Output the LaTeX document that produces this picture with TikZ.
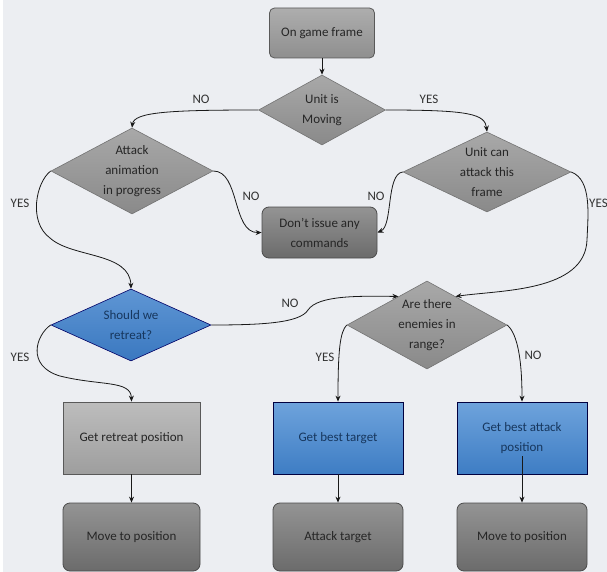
\documentclass[tikz,border=0pt]{standalone}
\usepackage{fontspec}
\setmainfont{Carlito}
\usetikzlibrary{shapes.geometric,arrows.meta}
\definecolor{bgc}{HTML}{ECEEF2}
\definecolor{txtgray}{HTML}{262626}
\definecolor{txtblue}{HTML}{17375E}
\definecolor{lblc}{HTML}{333333}
\tikzset{
  base/.style={font=\fontsize{13}{20}\selectfont, align=center, inner sep=0pt, text=txtgray},
  graybox/.style={base, rectangle, rounded corners=5pt, draw=black!65, line width=0.8pt,
     top color=black!32, bottom color=black!44},
  darkbox/.style={base, rectangle, rounded corners=7pt, draw=black!70, line width=0.8pt,
     top color=black!42, bottom color=black!58},
  lightbox/.style={base, rectangle, draw=black!65, line width=0.8pt,
     top color=black!26, bottom color=black!38},
  bluebox/.style={base, rectangle, draw=black!75!blue, line width=0.8pt, text=txtblue,
     top color={rgb,255:red,110;green,163;blue,220}, bottom color={rgb,255:red,62;green,125;blue,196}},
  graydia/.style={base, diamond, aspect=2, draw=black!55, line width=0.6pt,
     top color=black!34, bottom color=black!46},
  bluedia/.style={base, diamond, aspect=2, draw=black!60!blue, line width=0.6pt, text=txtblue,
     top color={rgb,255:red,95;green,150;blue,212}, bottom color={rgb,255:red,58;green,120;blue,192}},
  conn/.style={draw=black!90, line width=0.8pt, -{Stealth[length=6pt,width=5pt]}},
  lbl/.style={font=\fontsize{13}{15}\selectfont, text=lblc, inner sep=0pt}
}
\begin{document}
\begin{tikzpicture}[x=1pt,y=-1pt]
\useasboundingbox (0,0) rectangle (607,572);
\fill[bgc] (0,0) rectangle (607,572);
\fill[white] (0,0) rectangle (3,572);

% nodes
\node[graybox, minimum width=105pt, minimum height=50pt] (game) at (322,33) {On game frame};
\node[graydia, minimum width=127pt, minimum height=70pt] (moving) at (322,110) {Unit is\\Moving};
\node[graydia, minimum width=162pt, minimum height=86pt] (attack) at (132,171) {Attack\\animation\\in progress};
\node[graydia, minimum width=168pt, minimum height=80pt] (canatk) at (487,172) {Unit can\\attack this\\frame};
\node[darkbox, minimum width=115pt, minimum height=51pt] (dont) at (319.5,232.5) {Don’t issue any\\commands};
\node[bluedia, minimum width=160pt, minimum height=72pt] (retreat) at (131,325) {Should we\\retreat?};
\node[graydia, minimum width=150pt, minimum height=88pt] (enemies) at (427,325) {Are there\\enemies in\\range?};
\node[lightbox, minimum width=137pt, minimum height=72pt] (getret) at (131.5,438) {Get retreat position};
\node[bluebox, minimum width=130pt, minimum height=72pt] (besttgt) at (338,438) {Get best target};
\node[bluebox, minimum width=130pt, minimum height=72pt] (bestpos) at (522,438) {Get best attack\\position};
\node[darkbox, minimum width=137pt, minimum height=68pt] (move1) at (131.5,537) {Move to position};
\node[darkbox, minimum width=130pt, minimum height=68pt] (atk) at (338,537) {Attack target};
\node[darkbox, minimum width=130pt, minimum height=68pt] (move2) at (522,537) {Move to position};

% connectors
\draw[conn] (game.south) -- (moving.north);
\draw[conn] (moving.west) .. controls (170,110) and (134,112) .. (attack.north);
\draw[conn] (moving.east) .. controls (470,110) and (485,114) .. (canatk.north);
\coordinate (c1) at (50,238);
\draw[conn] (attack.west) .. controls (36,182) and (28,222) .. (c1) .. controls (72,258) and (130,252) .. (retreat.north);
\draw[conn] (attack.east) .. controls (240,171) and (232,233) .. (dont.west);
\draw[conn] (canatk.west) .. controls (386,174) and (393,226) .. (dont.east);
\coordinate (c2) at (587,240);
\draw[conn] (canatk.east) .. controls (592,180) and (588,215) .. (c2) .. controls (585,292) and (500,290) .. (enemies.45);
\coordinate (c3) at (308,310);
\draw[conn] (retreat.east) .. controls (262,325) and (300,323) .. (c3) .. controls (318,295) and (360,296) .. (enemies.135);
\coordinate (c4) at (60,376);
\draw[conn] (retreat.west) .. controls (36,335) and (26,366) .. (c4) .. controls (100,386) and (131,380) .. (getret.north);
\draw[conn] (enemies.west) .. controls (340,332) and (338,350) .. (besttgt.north);
\draw[conn] (enemies.east) .. controls (515,332) and (522,350) .. (bestpos.north);
\draw[conn] (getret.south) -- (move1.north);
\draw[conn] (besttgt.south) -- (atk.north);
\coordinate (c5) at (522,456);
\draw[conn] (c5) -- (move2.north);

% labels
\node[lbl] (l1) at (201,99) {NO};
\node[lbl] (l2) at (429,99) {YES};
\node[lbl] (l3) at (20,203) {YES};
\node[lbl] (l4) at (251,196) {NO};
\node[lbl] (l5) at (376,196) {NO};
\node[lbl, anchor=west] (l6) at (589,203) {YES};
\node[lbl] (l7) at (290,303) {NO};
\node[lbl] (l8) at (20,357) {YES};
\node[lbl] (l9) at (325,357) {YES};
\node[lbl] (l10) at (533,355) {NO};
\end{tikzpicture}
\end{document}
